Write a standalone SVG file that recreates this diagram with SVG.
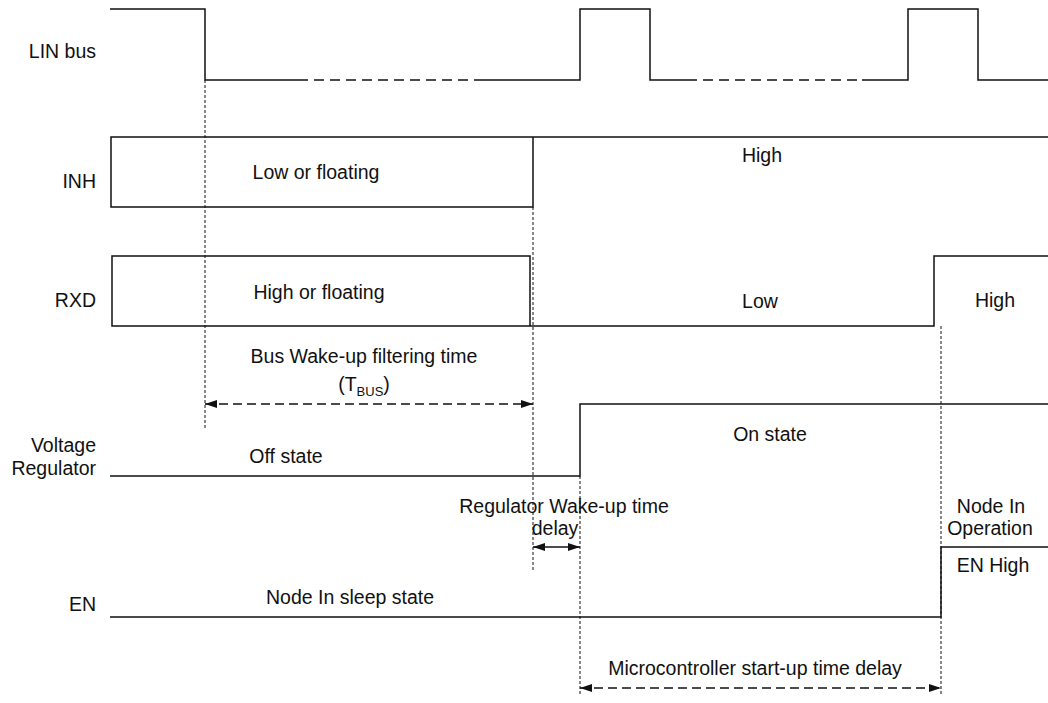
<svg xmlns="http://www.w3.org/2000/svg" width="1048" height="703" viewBox="0 0 1048 703">
<style>
text{font-family:"Liberation Sans",Arial,Helvetica,sans-serif;font-size:19.5px;fill:#111}
.lbl{text-anchor:end}
.c{text-anchor:middle}
.sig{fill:none;stroke:#111;stroke-width:1.5}
.dash{fill:none;stroke:#111;stroke-width:1.5;stroke-dasharray:10 6}
.guide{fill:none;stroke:#111;stroke-width:1;stroke-dasharray:3 2}
.arr{fill:none;stroke:#111;stroke-width:1.4;stroke-dasharray:9 5}
.arrs{fill:none;stroke:#111;stroke-width:1.4}
</style>
<defs>
<marker id="ah" viewBox="0 0 12 8" refX="12" refY="4" markerWidth="12" markerHeight="8" markerUnits="userSpaceOnUse" orient="auto-start-reverse">
<path d="M0,0 L12,4 L0,8 Z" fill="#111"/>
</marker>
</defs>
<rect width="1048" height="703" fill="#fff"/>

<g id="lin">
<text class="lbl" x="96" y="58">LIN bus</text>
<path class="sig" d="M110,9 H205 V80 H298 M478,80 H580 V9 H650 V80 H687 M862,80 H908 V9 H978 V80 H1048"/>
<path class="dash" d="M298,80 H478 M687,80 H862"/>
</g>

<g id="inh">
<text class="lbl" x="96" y="188">INH</text>
<path class="sig" d="M111,137 H533 V207 H111 Z M533,137 H1048"/>
<text class="c" x="316" y="179">Low or floating</text>
<text class="c" x="762" y="162">High</text>
</g>

<g id="rxd">
<text class="lbl" x="96" y="307">RXD</text>
<path class="sig" d="M112,256 H530 V326 H112 Z M530,326 H934 V256 H1048"/>
<text class="c" x="319" y="299">High or floating</text>
<text class="c" x="760" y="308">Low</text>
<text class="c" x="995" y="307">High</text>
</g>

<g id="regulator">
<text class="lbl" x="96" y="452">Voltage</text>
<text class="lbl" x="96" y="475">Regulator</text>
<path class="sig" d="M110,476 H580 V404 H1048"/>
<text class="c" x="286" y="463">Off state</text>
<text class="c" x="770" y="441">On state</text>
</g>

<g id="en">
<text class="lbl" x="96" y="611">EN</text>
<path class="sig" d="M110,617 H941 V547 H1048"/>
<text class="c" x="350" y="604">Node In sleep state</text>
<text class="c" x="991" y="513">Node In</text>
<text class="c" x="990" y="535">Operation</text>
<text class="c" x="993" y="572">EN High</text>
</g>

<g id="connectors">
<path class="guide" d="M205,80 V428"/>
<path class="guide" d="M533,207 V570"/>
<path class="guide" d="M580,476 V695"/>
<path class="guide" d="M941,326 V695"/>
<path class="arr" d="M205,404 H533" marker-start="url(#ah)" marker-end="url(#ah)"/>
<text class="c" x="364" y="363">Bus Wake-up filtering time</text>
<text class="c" x="364" y="391">(T<tspan font-size="13" dy="5">BUS</tspan><tspan dy="-5">)</tspan></text>
<path class="arrs" d="M533,547 H580" marker-start="url(#ah)" marker-end="url(#ah)"/>
<text class="c" x="564" y="513">Regulator Wake-up time</text>
<text class="c" x="555" y="535">delay</text>
<path class="arr" d="M580,688 H941" marker-start="url(#ah)" marker-end="url(#ah)"/>
<text class="c" x="755" y="675">Microcontroller start-up time delay</text>
</g>
</svg>
